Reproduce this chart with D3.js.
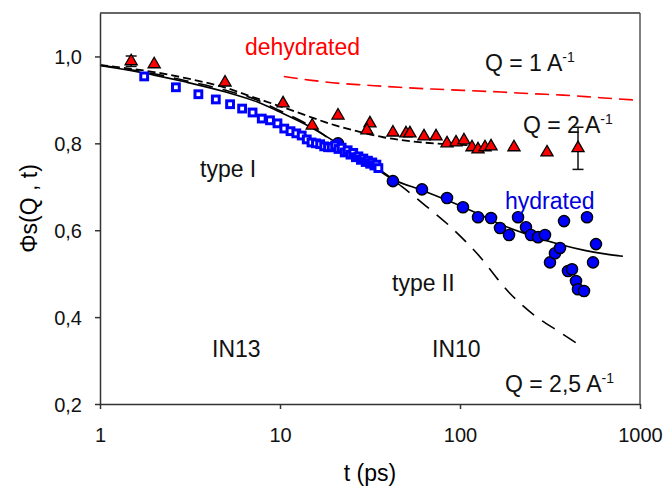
<!DOCTYPE html>
<meta charset="utf-8" />
<style>
  body { margin: 0; background: #fff; font-family: Arial, "Liberation Sans", sans-serif; }
  .axis path, .axis line { stroke: #333; stroke-width: 1.5; fill: none; }
  .axis text { font-size: 20px; fill: #111; font-family: Arial, "Liberation Sans", sans-serif; }
  .note { font-size: 23px; font-family: Arial, "Liberation Sans", sans-serif; }
  .curve { fill: none; }
</style>
<body>
<script src="https://d3js.org/d3.v7.min.js"></script>
<script>
// IN13 hydrated (open squares)
var in13T = [1.76, 2.64, 3.52, 4.40, 5.28, 6.16, 7.04, 7.92, 8.80, 9.68, 10.56, 11.44, 12.32, 13.20, 14.08, 14.96, 15.84, 16.72, 17.60, 18.48, 19.36, 20.24, 21.12, 22.00, 22.88, 23.76, 24.64, 25.52, 26.40, 27.28, 28.16, 29.04, 29.92, 30.80, 31.68, 32.56, 33.44, 34.32, 35.20];
var in13Phi = [0.954, 0.929, 0.913, 0.901, 0.890, 0.880, 0.871, 0.857, 0.853, 0.846, 0.834, 0.828, 0.823, 0.818, 0.809, 0.802, 0.800, 0.798, 0.793, 0.791, 0.791, 0.795, 0.787, 0.790, 0.779, 0.784, 0.774, 0.778, 0.768, 0.770, 0.762, 0.765, 0.757, 0.760, 0.753, 0.756, 0.749, 0.751, 0.743];

// IN10 hydrated (filled circles)
var in10T = [21.0, 42.4, 61.5, 84.7, 103.9, 125.9, 148.7, 166.8, 187.2, 210.1, 232.6, 248.0, 271.3, 296.6, 316.2, 337.1, 359.4, 378.3, 398.1, 419.0, 441.0, 452.3, 488.6, 507.6, 548.2, 569.5];
var in10Phi = [0.800, 0.713, 0.694, 0.674, 0.653, 0.630, 0.628, 0.605, 0.589, 0.630, 0.607, 0.589, 0.584, 0.589, 0.526, 0.547, 0.559, 0.621, 0.506, 0.510, 0.483, 0.464, 0.460, 0.630, 0.526, 0.568];

// dehydrated (triangles)
var dryT = [1.49, 2.00, 4.95, 10.4, 15.1, 21.0, 31.6, 30.4, 42.4, 50.1, 52.7, 63.1, 73.6, 84.7, 95.0, 105.2, 116.6, 125.9, 137.7, 148.7, 199.5, 304.3, 452.5];
var dryPhi = [0.989, 0.982, 0.940, 0.892, 0.841, 0.864, 0.846, 0.830, 0.825, 0.823, 0.823, 0.816, 0.816, 0.800, 0.802, 0.807, 0.791, 0.786, 0.791, 0.793, 0.791, 0.779, 0.789];
var errT = [1.49, 452.5];
var errLo = [0.977, 0.740];
var errHi = [1.001, 0.837];

// fitted curves
var fitT = [1, 2, 3, 5, 7.5, 10, 15, 20, 27, 35, 42.4, 61.5, 85, 126, 167, 250, 360, 500, 650, 804];
var fitPhi = [0.979, 0.957, 0.941, 0.918, 0.895, 0.872, 0.836, 0.805, 0.772, 0.742, 0.718, 0.692, 0.669, 0.638, 0.614, 0.587, 0.567, 0.553, 0.545, 0.540];
var type2T = [1, 2, 3, 5, 7.5, 10, 15, 20, 30, 48, 65, 88, 124, 189, 267, 350, 472];
var type2Phi = [0.980, 0.960, 0.944, 0.922, 0.899, 0.875, 0.838, 0.803, 0.757, 0.699, 0.655, 0.609, 0.547, 0.455, 0.400, 0.368, 0.333];
var dryFitT = [1, 2, 3, 4.9, 7, 10.4, 14, 19, 25.6, 37.5, 62, 110];
var dryFitPhi = [0.980, 0.964, 0.950, 0.929, 0.907, 0.883, 0.864, 0.845, 0.830, 0.814, 0.802, 0.796];
var q1T = [10.5, 15, 21.5, 30, 46, 70, 104, 170, 260, 373, 600, 1000];
var q1Phi = [0.954, 0.945, 0.938, 0.934, 0.929, 0.925, 0.922, 0.918, 0.914, 0.911, 0.905, 0.899];

var xTicks = [1, 10, 100, 1000];
var yTicks = [0.2, 0.4, 0.6, 0.8, 1.0];

var margin = { top: 13, right: 29, bottom: 88, left: 100 },
  width = 669 - margin.left - margin.right,
  height = 492 - margin.top - margin.bottom;

var x = d3.scaleLog().domain([1, 1000]).range([0, width]);
var y = d3.scaleLinear().domain([0.2, 1.1]).range([height, 0]);

var svg = d3.select("body").append("svg")
  .attr("width", 669).attr("height", 492)
  .append("g")
  .attr("transform", "translate(" + margin.left + "," + margin.top + ")");

function pairs(ts, vs) { return ts.map(function (t, i) { return [t, vs[i]]; }); }

var line = d3.line()
  .x(function (d) { return x(d[0]); })
  .y(function (d) { return y(d[1]); })
  .curve(d3.curveMonotoneX);

// frame top / right
svg.append("line").attr("x1", 0).attr("x2", width).attr("y1", 0).attr("y2", 0)
  .attr("stroke", "#333").attr("stroke-width", 1.5);
svg.append("line").attr("x1", width).attr("x2", width).attr("y1", 0).attr("y2", height)
  .attr("stroke", "#555").attr("stroke-width", 1.5);

// curves
svg.append("path").attr("class", "curve").attr("d", line(pairs(q1T, q1Phi)))
  .attr("stroke", "#ff0000").attr("stroke-width", 1.6).attr("stroke-dasharray", "14,7");
svg.append("path").attr("class", "curve").attr("d", line(pairs(type2T, type2Phi)))
  .attr("stroke", "#000").attr("stroke-width", 1.6).attr("stroke-dasharray", "15,10");
svg.append("path").attr("class", "curve").attr("d", line(pairs(dryFitT, dryFitPhi)))
  .attr("stroke", "#000").attr("stroke-width", 1.8).attr("stroke-dasharray", "8,4");
svg.append("path").attr("class", "curve").attr("d", line(pairs(fitT, fitPhi)))
  .attr("stroke", "#000").attr("stroke-width", 1.6);

// IN10 circles
svg.selectAll(".in10").data(pairs(in10T, in10Phi)).enter().append("circle")
  .attr("class", "in10")
  .attr("cx", function (d) { return x(d[0]); })
  .attr("cy", function (d) { return y(d[1]); })
  .attr("r", 5.6)
  .attr("fill", "#0000ff").attr("stroke", "#000").attr("stroke-width", 1.4);

// IN13 open squares
svg.selectAll(".in13").data(pairs(in13T, in13Phi)).enter().append("rect")
  .attr("class", "in13")
  .attr("x", function (d) { return x(d[0]) - 3.4; })
  .attr("y", function (d) { return y(d[1]) - 3.4; })
  .attr("width", 6.8).attr("height", 6.8)
  .attr("fill", "#fff").attr("stroke", "#0000ff").attr("stroke-width", 3);

// error bars
errT.forEach(function (t, i) {
  var cx = x(t);
  svg.append("line").attr("x1", cx).attr("x2", cx).attr("y1", y(errLo[i])).attr("y2", y(errHi[i]))
    .attr("stroke", "#111").attr("stroke-width", 1.5);
  [errLo[i], errHi[i]].forEach(function (v) {
    svg.append("line").attr("x1", cx - 5.5).attr("x2", cx + 5.5).attr("y1", y(v)).attr("y2", y(v))
      .attr("stroke", "#111").attr("stroke-width", 1.5);
  });
});

// triangles
svg.selectAll(".dry").data(pairs(dryT, dryPhi)).enter().append("path")
  .attr("class", "dry")
  .attr("d", d3.symbol().type(d3.symbolTriangle).size(64))
  .attr("transform", function (d) { return "translate(" + x(d[0]) + "," + y(d[1]) + ")"; })
  .attr("fill", "#ff0000").attr("stroke", "#000").attr("stroke-width", 1.3);

// axes
var xAxis = svg.append("g").attr("class", "axis")
  .attr("transform", "translate(0," + height + ")")
  .call(d3.axisBottom(x).tickValues(xTicks).tickFormat(d3.format("d")).tickSize(5).tickSizeOuter(0));
xAxis.selectAll("text").attr("y", 38).attr("dy", 0);

var yAxis = svg.append("g").attr("class", "axis")
  .call(d3.axisLeft(y).tickValues(yTicks).tickSize(5).tickSizeOuter(0)
    .tickFormat(function (d) { return d3.format(".1f")(d).replace(".", ","); }));
yAxis.selectAll("text").attr("x", -18).attr("dy", "0.36em");

// axis titles
svg.append("text").attr("class", "note")
  .attr("x", width / 2).attr("y", height + 77)
  .style("text-anchor", "middle").text("t (ps)");
svg.append("text").attr("class", "note")
  .attr("transform", "translate(" + (-63) + "," + (height / 2) + ") rotate(-90)")
  .style("text-anchor", "middle").text("\u03A6s(Q , t)");

// annotations
function note(px, py, txt, color, sup) {
  var t = svg.append("text").attr("class", "note")
    .attr("x", px - margin.left).attr("y", py - margin.top)
    .attr("fill", color).text(txt);
  if (sup) {
    t.append("tspan").attr("dy", -9).style("font-size", "14px").text(sup);
  }
}
note(245, 55, "dehydrated", "#ff0000");
note(485, 71, "Q = 1 A", "#111", "-1");
note(523, 133, "Q = 2 A", "#111", "-1");
note(200, 177, "type I", "#111");
note(505, 209, "hydrated", "#0000dd");
note(392, 291, "type II", "#111");
note(212, 357, "IN13", "#111");
note(432, 357, "IN10", "#111");
note(505, 392, "Q = 2,5 A", "#111", "-1");
</script>
</body>
